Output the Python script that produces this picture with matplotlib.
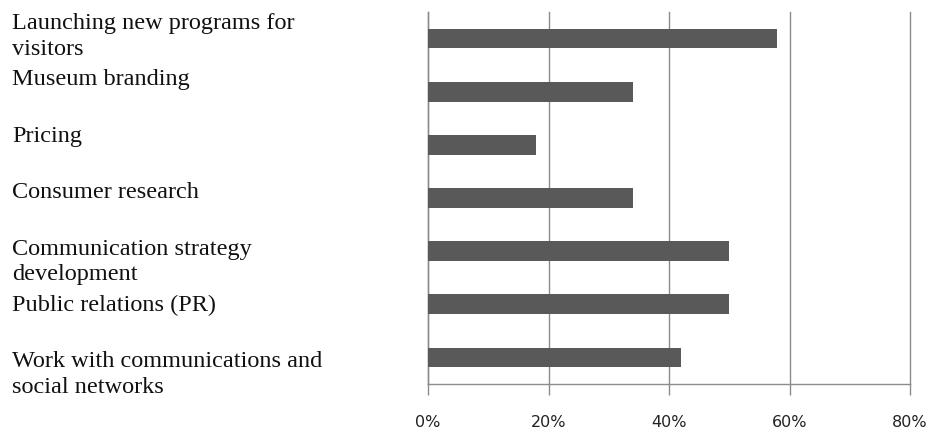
import matplotlib.pyplot as plt

# categories from top to bottom, share of respondents (%)
labels = [
    "Launching new programs for\nvisitors",
    "Museum branding",
    "Pricing",
    "Consumer research",
    "Communication strategy\ndevelopment",
    "Public relations (PR)",
    "Work with communications and\nsocial networks",
]
values = [58, 34, 18, 34, 50, 50, 42]
xticks = [0, 20, 40, 60, 80]

fig = plt.figure(figsize=(9.33, 4.32), dpi=100)
ax = fig.add_axes([428 / 933, 1 - 384 / 432, 482 / 933, 372 / 432])

pos = list(range(len(values)))
ax.barh(pos, values, height=0.37, color="#595959", zorder=3)

ax.set_xlim(0, 80)
ax.set_ylim(len(values) - 0.5, -0.5)
ax.set_xticks(xticks)
ax.set_xticklabels([f"{t}%" for t in xticks], fontsize=11.5, color="#222222")
ax.set_yticks([])

# vertical gridlines (the one at 80% sits on the edge, so don't clip it)
ax.grid(axis="x", color="#8c8c8c", linewidth=1.0, zorder=0)
for gl in ax.get_xgridlines():
    gl.set_clip_on(False)

for s in ["top", "right"]:
    ax.spines[s].set_visible(False)
for s in ["left", "bottom"]:
    ax.spines[s].set_color("#8c8c8c")
    ax.spines[s].set_linewidth(1.0)
ax.tick_params(axis="x", direction="out", length=8, width=1.0, color="#8c8c8c", pad=14)

# category labels on the left, top aligned
for i, lab in enumerate(labels):
    top = 1 - (13 + 56.4 * i) / 432
    fig.text(12 / 933, top, lab, ha="left", va="top", fontsize=17.5,
             family="Liberation Serif", color="#111111", linespacing=1.3)

plt.savefig("out.png", dpi=100)
